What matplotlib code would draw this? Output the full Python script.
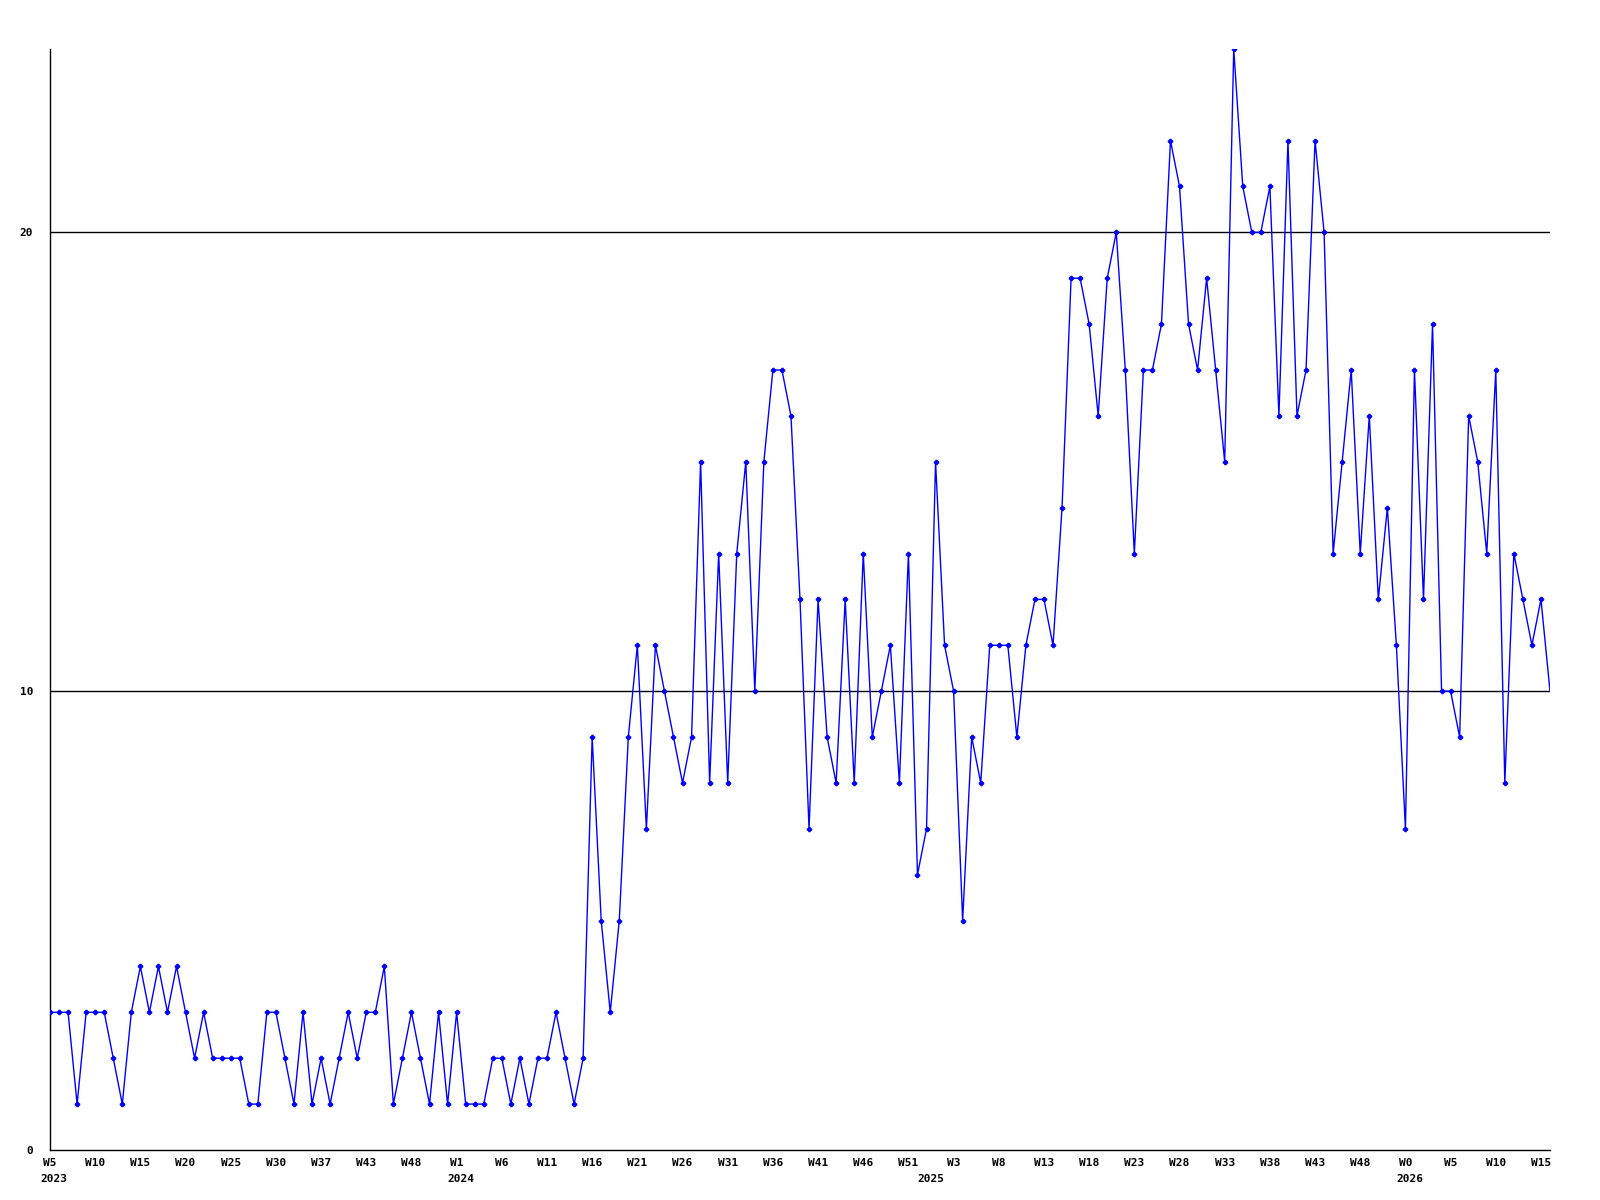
import numpy as np
import matplotlib
matplotlib.use("Agg")
import matplotlib.pyplot as plt

# weekly counts, W5 2023 .. W15 2026
counts = [3, 3, 3, 1, 3, 3, 3, 2, 1, 3,
          4, 3, 4, 3, 4, 3, 2, 3, 2, 2,
          2, 2, 1, 1, 3, 3, 2, 1, 3, 1,
          2, 1, 2, 3, 2, 3, 3, 4, 1, 2,
          3, 2, 1, 3, 1, 3, 1, 1, 1, 2,
          2, 1, 2, 1, 2, 2, 3, 2, 1, 2,
          9, 5, 3, 5, 9, 11, 7, 11, 10, 9,
          8, 9, 15, 8, 13, 8, 13, 15, 10, 15,
          17, 17, 16, 12, 7, 12, 9, 8, 12, 8,
          13, 9, 10, 11, 8, 13, 6, 7, 15, 11,
          10, 5, 9, 8, 11, 11, 11, 9, 11, 12,
          12, 11, 14, 19, 19, 18, 16, 19, 20, 17,
          13, 17, 17, 18, 22, 21, 18, 17, 19, 17,
          15, 24, 21, 20, 20, 21, 16, 22, 16, 17,
          22, 20, 13, 15, 17, 13, 16, 12, 14, 11,
          7, 17, 12, 18, 10, 10, 9, 16, 15, 13,
          17, 8, 13, 12, 11, 12, 10]

# one label every 5 weeks
week_labels = ["W5", "W10", "W15", "W20", "W25", "W30", "W37", "W43", "W48",
               "W1", "W6", "W11", "W16", "W21", "W26", "W31", "W36", "W41",
               "W46", "W51", "W3", "W8", "W13", "W18", "W23", "W28", "W33",
               "W38", "W43", "W48", "W0", "W5", "W10", "W15"]
years = ["2023", "2024", "2025", "2026"]
weeks_per_year = [45, 52, 53, 17]

plt.rcParams['font.family'] = ['DejaVu Sans Mono']
fig = plt.figure(figsize=(16, 12), dpi=100)
ax = fig.add_axes([0.03125, 0.0417, 0.9375, 0.9176])

x = np.arange(len(counts))
ax.plot(x, counts, color="#0000ff", lw=1.0, marker="P", ms=3,
        markevery=slice(0, len(counts) - 1), zorder=3)

for v in [10, 20]:
    ax.axhline(v, color="black", lw=1.0, zorder=1)

ax.set_xlim(0, len(counts) - 1)
ax.set_ylim(0, 24)
ax.set_yticks([0, 10, 20])
ax.set_yticklabels(["0", "10", "20"], fontsize=8, fontweight="bold")
ax.set_xticks(np.arange(0, len(counts), 5))
ax.set_xticklabels(week_labels, fontsize=8, fontweight="bold")
ax.tick_params(axis="y", length=0, pad=12)
ax.tick_params(axis="x", length=0, pad=6)
for lab in ax.get_xticklabels():
    lab.set_x(lab.get_position()[0])
    lab.set_horizontalalignment("center")

for s in ["top", "right"]:
    ax.spines[s].set_visible(False)
for s in ["left", "bottom"]:
    ax.spines[s].set_linewidth(1.0)

starts = np.concatenate([[0], np.cumsum(weeks_per_year)[:-1]])
for yr, st in zip(years, starts):
    ax.annotate(yr, xy=(st, 0), xycoords=("data", "axes fraction"),
                xytext=(3, -21), textcoords="offset points",
                ha="center", va="center", fontsize=8, fontweight="bold")

fig.savefig("out.png", dpi=100)
